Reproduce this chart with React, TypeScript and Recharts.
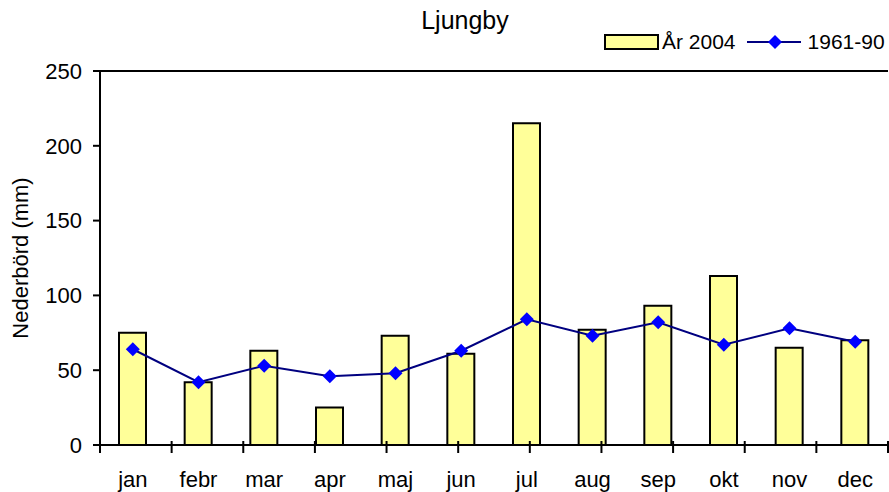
import { ComposedChart, Bar, Line, XAxis, YAxis, ReferenceLine } from "recharts";

const months = ["jan", "febr", "mar", "apr", "maj", "jun", "jul", "aug", "sep", "okt", "nov", "dec"];
const year2004 = [75, 42, 63, 25, 73, 61, 215, 77, 93, 113, 65, 70];
const normal6190 = [64, 42, 53, 46, 48, 63, 84, 73, 82, 67, 78, 69];
const yTicks = [0, 50, 100, 150, 200, 250];
const boundaryTicks = [0, 1, 2, 3, 4, 5, 6, 7, 8, 9, 10, 11, 12];

const FONT = '"Liberation Sans", Arial, sans-serif';

const data = months.map((m, i) => ({ month: m, y2004: year2004[i], normal: normal6190[i] }));

function Diamond({ cx, cy }: any) {
  if (cx == null || cy == null) return null;
  const r = 7;
  return <polygon points={`${cx},${cy - r} ${cx + r},${cy} ${cx},${cy + r} ${cx - r},${cy}`} fill="#0000FF" />;
}

function BoundaryTick({ x, y }: any) {
  return <line x1={x} x2={x} y1={y - 4} y2={y + 8} stroke="#000" strokeWidth={2} />;
}

function LegendBox() {
  return (
    <div style={{ display: "flex", alignItems: "center", fontFamily: FONT, fontSize: 21, color: "#000" }}>
      <span style={{ width: 51, height: 12, background: "#FFFF99", border: "2px solid #000", display: "inline-block" }} />
      <span style={{ marginLeft: 3 }}>År 2004</span>
      <svg width={56} height={16} style={{ marginLeft: 11 }}>
        <line x1={0} x2={54} y1={8} y2={8} stroke="#000080" strokeWidth={2} />
        <polygon points="28,1 35,8 28,15 21,8" fill="#0000FF" />
      </svg>
      <span style={{ marginLeft: 5 }}>1961-90</span>
    </div>
  );
}

export default function App() {
  return (
    <div style={{ position: "fixed", left: 0, top: 0, width: 889, height: 492, background: "#fff" }}>
      <div
        style={{
          position: "absolute",
          top: 6,
          left: 0,
          width: 930,
          textAlign: "center",
          fontFamily: FONT,
          fontSize: 25,
          color: "#000",
        }}
      >
        Ljungby
      </div>
      <div style={{ position: "absolute", top: 30, left: 604, zIndex: 2 }}>
        <LegendBox />
      </div>
      <ComposedChart
        width={889}
        height={492}
        data={data}
        margin={{ top: 71, right: 1, bottom: 0, left: 0 }}
      >
        <XAxis
          xAxisId="bounds"
          type="number"
          domain={[0, 12]}
          ticks={boundaryTicks}
          height={1}
          axisLine={{ stroke: "#000", strokeWidth: 2 }}
          tickLine={false}
          tickSize={0}
          tickMargin={0}
          tick={<BoundaryTick />}
          interval={0}
          allowDataOverflow
        />
        <XAxis
          xAxisId="months"
          dataKey="month"
          height={46}
          axisLine={false}
          tickLine={false}
          tickMargin={19}
          tick={{ fontFamily: FONT, fontSize: 22, fill: "#000" }}
          interval={0}
        />
        <YAxis
          width={100}
          domain={[0, 250]}
          ticks={yTicks}
          axisLine={{ stroke: "#000", strokeWidth: 2 }}
          tickLine={{ stroke: "#000", strokeWidth: 2 }}
          tickSize={7}
          tickMargin={11}
          tick={{ fontFamily: FONT, fontSize: 22, fill: "#000" }}
          label={{
            value: "Nederbörd (mm)",
            angle: -90,
            position: "insideLeft",
            offset: 20,
            style: { fontFamily: FONT, fontSize: 22, fill: "#000", textAnchor: "middle" },
          }}
        />
        <ReferenceLine xAxisId="months" y={250} stroke="#000" strokeWidth={2} />
        <ReferenceLine xAxisId="bounds" x={12} stroke="#808080" strokeWidth={1} />
        <Bar xAxisId="months" dataKey="y2004" name="År 2004" fill="#FFFF99" stroke="#000" strokeWidth={2} barSize={27} isAnimationActive={false} />
        <Line
          xAxisId="months"
          dataKey="normal"
          name="1961-90"
          stroke="#000080"
          strokeWidth={2}
          dot={<Diamond />}
          activeDot={false}
          isAnimationActive={false}
        />
      </ComposedChart>
    </div>
  );
}
